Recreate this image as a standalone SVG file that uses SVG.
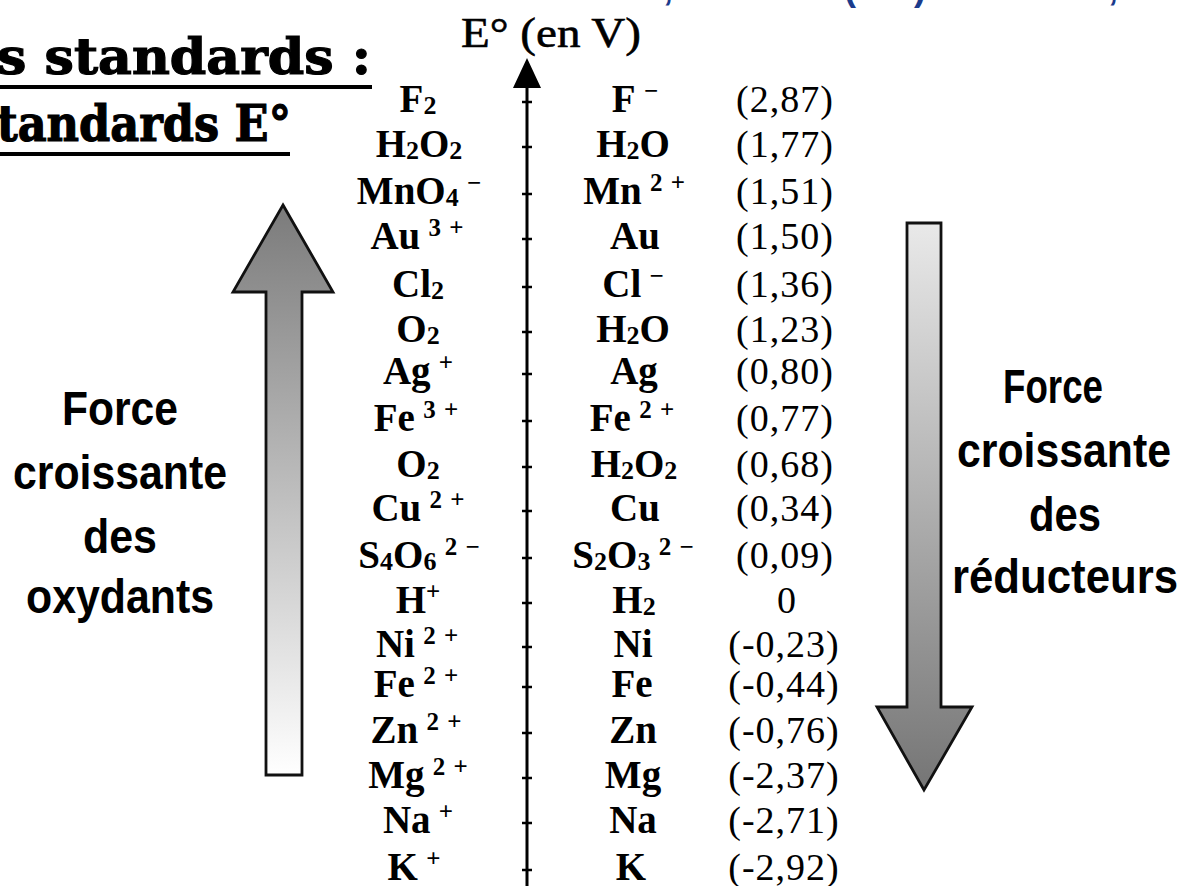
<svg xmlns="http://www.w3.org/2000/svg" width="1181" height="886" viewBox="0 0 1181 886">
<defs>
<style>
.title{font-family:"DejaVu Serif","Liberation Serif",serif;font-weight:bold;font-size:50px;fill:#000;stroke:#000;stroke-width:1.2px}
.axislbl{font-family:"Liberation Serif","Times New Roman",serif;font-size:43px;fill:#000;stroke:#000;stroke-width:0.6px}
.f{font-family:"Liberation Serif","Times New Roman",serif;font-weight:bold;font-size:39px;fill:#000;text-anchor:middle}
.v{font-family:"Liberation Serif","Times New Roman",serif;font-size:38px;fill:#000;text-anchor:middle;letter-spacing:1px}
.sub{font-size:26px}
.sup{font-size:25px;word-spacing:2px}
.lbl{font-family:"Liberation Sans",Arial,sans-serif;font-weight:bold;font-size:48px;fill:#000;text-anchor:middle}
.blue{font-family:"Liberation Sans",Arial,sans-serif;font-weight:bold;font-size:36px;fill:#1b3b8c}
.tick{stroke:#000;stroke-width:2.5}
.big{stroke:#111;stroke-width:2.8;stroke-linejoin:miter}
</style>
<linearGradient id="gUp" gradientUnits="userSpaceOnUse" x1="0" y1="205" x2="0" y2="775">
<stop offset="0" stop-color="#7b7b7b"/>
<stop offset="1" stop-color="#ffffff"/>
</linearGradient>
<linearGradient id="gDown" gradientUnits="userSpaceOnUse" x1="0" y1="223" x2="0" y2="790">
<stop offset="0" stop-color="#e9e9e9"/>
<stop offset="1" stop-color="#757575"/>
</linearGradient>
</defs>
<rect width="1181" height="886" fill="#fff"/>

<g id="top-fragments">
<text class="blue" y="0"><tspan x="663">,</tspan><tspan x="844">(</tspan><tspan x="914">)</tspan><tspan x="1108">,</tspan></text>
</g>

<g id="title">
<text class="title" x="-3" y="74" textLength="374" lengthAdjust="spacingAndGlyphs">s standards :</text>
<rect x="0" y="85" width="372" height="4" fill="#000"/>
<text class="title" x="-3" y="141" textLength="294" lengthAdjust="spacingAndGlyphs">tandards E°</text>
<rect x="0" y="152" width="290" height="4" fill="#000"/>
</g>

<g id="axis">
<text class="axislbl" x="461" y="47" textLength="180" lengthAdjust="spacingAndGlyphs">E° (en V)</text>
<line x1="527" y1="86" x2="527" y2="886" stroke="#000" stroke-width="3"/>
<polygon points="527,58 513,88 541,88" fill="#000"/>
<g id="ticks">
<line class="tick" x1="522" x2="532" y1="102" y2="102"/>
<line class="tick" x1="522" x2="532" y1="147" y2="147"/>
<line class="tick" x1="522" x2="532" y1="194" y2="194"/>
<line class="tick" x1="522" x2="532" y1="239" y2="239"/>
<line class="tick" x1="522" x2="532" y1="287" y2="287"/>
<line class="tick" x1="522" x2="532" y1="332" y2="332"/>
<line class="tick" x1="522" x2="532" y1="374" y2="374"/>
<line class="tick" x1="522" x2="532" y1="421" y2="421"/>
<line class="tick" x1="522" x2="532" y1="467" y2="467"/>
<line class="tick" x1="522" x2="532" y1="511" y2="511"/>
<line class="tick" x1="522" x2="532" y1="558" y2="558"/>
<line class="tick" x1="522" x2="532" y1="603" y2="603"/>
<line class="tick" x1="522" x2="532" y1="647" y2="647"/>
<line class="tick" x1="522" x2="532" y1="687" y2="687"/>
<line class="tick" x1="522" x2="532" y1="733" y2="733"/>
<line class="tick" x1="522" x2="532" y1="778" y2="778"/>
<line class="tick" x1="522" x2="532" y1="823" y2="823"/>
<line class="tick" x1="522" x2="532" y1="870" y2="870"/>
</g>
</g>

<g id="oxydants">
<text class="f" x="418" y="112">F<tspan class="sub" dy="2">2</tspan></text>
<text class="f" x="419" y="157">H<tspan class="sub" dy="2">2</tspan><tspan dy="-2">O</tspan><tspan class="sub" dy="2">2</tspan></text>
<text class="f" x="419" y="204">MnO<tspan class="sub" dy="2">4</tspan><tspan class="sup" dy="-15"> −</tspan></text>
<text class="f" x="417" y="249">Au<tspan class="sup" dy="-13"> 3 +</tspan></text>
<text class="f" x="418" y="297">Cl<tspan class="sub" dy="2">2</tspan></text>
<text class="f" x="418" y="342">O<tspan class="sub" dy="2">2</tspan></text>
<text class="f" x="418" y="384">Ag<tspan class="sup" dy="-13"> +</tspan></text>
<text class="f" x="416" y="431">Fe<tspan class="sup" dy="-13"> 3 +</tspan></text>
<text class="f" x="418" y="477">O<tspan class="sub" dy="2">2</tspan></text>
<text class="f" x="418" y="521">Cu<tspan class="sup" dy="-13"> 2 +</tspan></text>
<text class="f" x="419" y="568">S<tspan class="sub" dy="2">4</tspan><tspan dy="-2">O</tspan><tspan class="sub" dy="2">6</tspan><tspan class="sup" dy="-15"> 2 −</tspan></text>
<text class="f" x="418" y="613">H<tspan class="sup" dy="-13">+</tspan></text>
<text class="f" x="417" y="657">Ni<tspan class="sup" dy="-13"> 2 +</tspan></text>
<text class="f" x="416" y="697">Fe<tspan class="sup" dy="-13"> 2 +</tspan></text>
<text class="f" x="416" y="743">Zn<tspan class="sup" dy="-13"> 2 +</tspan></text>
<text class="f" x="418" y="788">Mg<tspan class="sup" dy="-13"> 2 +</tspan></text>
<text class="f" x="418" y="833">Na<tspan class="sup" dy="-13"> +</tspan></text>
<text class="f" x="414" y="880">K<tspan class="sup" dy="-13"> +</tspan></text>
</g>

<g id="reducteurs">
<text class="f" x="635" y="112">F<tspan class="sup" dy="-13"> −</tspan></text>
<text class="f" x="633" y="157">H<tspan class="sub" dy="2">2</tspan><tspan dy="-2">O</tspan></text>
<text class="f" x="634" y="204">Mn<tspan class="sup" dy="-13"> 2 +</tspan></text>
<text class="f" x="635" y="249">Au</text>
<text class="f" x="633" y="297">Cl<tspan class="sup" dy="-13"> −</tspan></text>
<text class="f" x="633" y="342">H<tspan class="sub" dy="2">2</tspan><tspan dy="-2">O</tspan></text>
<text class="f" x="634" y="384">Ag</text>
<text class="f" x="632" y="431">Fe<tspan class="sup" dy="-13"> 2 +</tspan></text>
<text class="f" x="634" y="477">H<tspan class="sub" dy="2">2</tspan><tspan dy="-2">O</tspan><tspan class="sub" dy="2">2</tspan></text>
<text class="f" x="635" y="521">Cu</text>
<text class="f" x="633" y="568">S<tspan class="sub" dy="2">2</tspan><tspan dy="-2">O</tspan><tspan class="sub" dy="2">3</tspan><tspan class="sup" dy="-15"> 2 −</tspan></text>
<text class="f" x="634" y="613">H<tspan class="sub" dy="2">2</tspan></text>
<text class="f" x="633" y="657">Ni</text>
<text class="f" x="632" y="697">Fe</text>
<text class="f" x="633" y="743">Zn</text>
<text class="f" x="633" y="788">Mg</text>
<text class="f" x="633" y="833">Na</text>
<text class="f" x="631" y="880">K</text>
</g>

<g id="potentiels">
<text class="v" x="785" y="112">(2,87)</text>
<text class="v" x="785" y="157">(1,77)</text>
<text class="v" x="785" y="204">(1,51)</text>
<text class="v" x="785" y="249">(1,50)</text>
<text class="v" x="785" y="297">(1,36)</text>
<text class="v" x="785" y="342">(1,23)</text>
<text class="v" x="785" y="384">(0,80)</text>
<text class="v" x="785" y="431">(0,77)</text>
<text class="v" x="785" y="477">(0,68)</text>
<text class="v" x="785" y="521">(0,34)</text>
<text class="v" x="785" y="568">(0,09)</text>
<text class="v" x="787" y="613">0</text>
<text class="v" x="784" y="657">(-0,23)</text>
<text class="v" x="784" y="697">(-0,44)</text>
<text class="v" x="784" y="743">(-0,76)</text>
<text class="v" x="784" y="788">(-2,37)</text>
<text class="v" x="784" y="833">(-2,71)</text>
<text class="v" x="784" y="880">(-2,92)</text>
</g>

<g id="arrow-oxydants">
<polygon class="big" fill="url(#gUp)" points="283,205 333,292 302,292 302,775 266,775 266,292 233,292"/>
</g>
<g id="label-oxydants">
<text class="lbl" x="120" y="425" textLength="116" lengthAdjust="spacingAndGlyphs">Force</text>
<text class="lbl" x="120" y="489" textLength="214" lengthAdjust="spacingAndGlyphs">croissante</text>
<text class="lbl" x="120" y="553" textLength="74" lengthAdjust="spacingAndGlyphs">des</text>
<text class="lbl" x="120" y="613" textLength="188" lengthAdjust="spacingAndGlyphs">oxydants</text>
</g>

<g id="arrow-reducteurs">
<polygon class="big" fill="url(#gDown)" points="907,223 941,223 941,707 972,707 924,790 877,707 907,707"/>
</g>
<g id="label-reducteurs">
<text class="lbl" x="1053" y="403" textLength="100" lengthAdjust="spacingAndGlyphs">Force</text>
<text class="lbl" x="1064" y="467" textLength="214" lengthAdjust="spacingAndGlyphs">croissante</text>
<text class="lbl" x="1065" y="531" textLength="72" lengthAdjust="spacingAndGlyphs">des</text>
<text class="lbl" x="1065" y="593" textLength="226" lengthAdjust="spacingAndGlyphs">réducteurs</text>
</g>
</svg>
